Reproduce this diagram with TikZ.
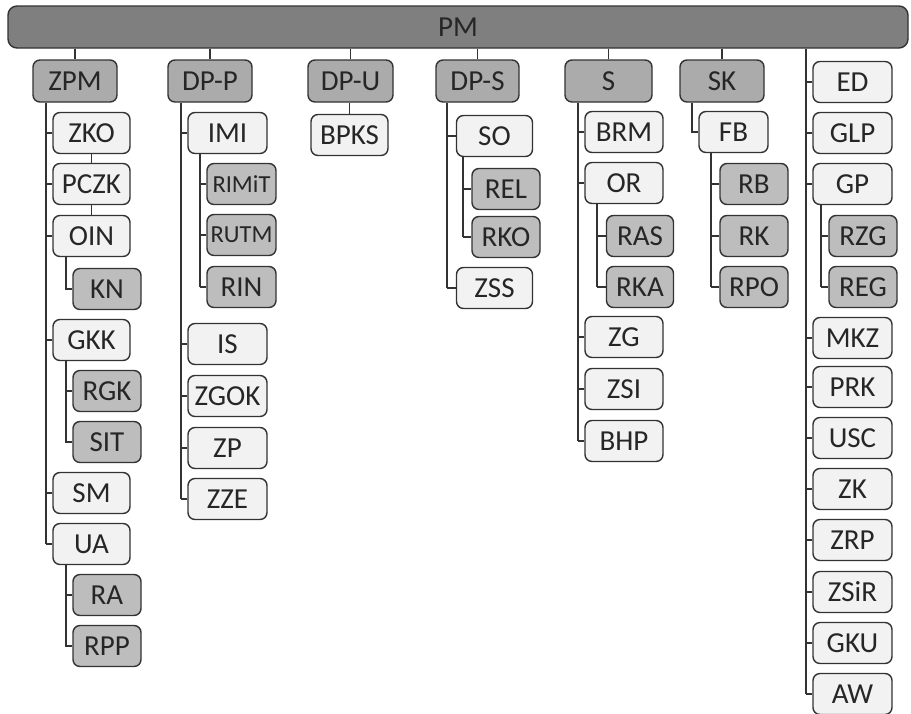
\documentclass[tikz,border=0pt]{standalone}
\usepackage{fontspec}
\setmainfont{Carlito}
\definecolor{barc}{HTML}{7F7F7F}
\definecolor{topc}{HTML}{ABABAB}
\definecolor{midc}{HTML}{BDBDBD}
\definecolor{lightc}{HTML}{F2F2F2}
\definecolor{linec}{HTML}{333333}
\begin{document}
\begin{tikzpicture}[x=1pt,y=-1pt,
  box/.style={draw=linec, line width=1.4pt, rounded corners=7pt, inner sep=0pt,
    minimum height=41pt, font=\fontsize{29}{32}\selectfont, text=black!85},
  topbox/.style={box, fill=topc, minimum height=42pt},
  lvtwo/.style={box, fill=lightc},
  lvthree/.style={box, fill=midc},
  smalltext/.style={font=\fontsize{24.5}{27}\selectfont},
  conn/.style={draw=linec, line width=1.2pt}]
\useasboundingbox (0,0) rectangle (911,713);
\clip (0,0) rectangle (911,713);
\fill[white] (0,0) rectangle (911,713);

% root bar
\node[box, fill=barc, minimum width=900pt, minimum height=42pt, rounded corners=9pt] (PM) at (458,27) {PM};

% top level
\node[topbox, minimum width=84pt] (ZPM) at (75,81) {ZPM};
\node[topbox, minimum width=84pt] (DPP) at (210,81) {DP-P};
\node[topbox, minimum width=85pt] (DPU) at (350.5,81) {DP-U};
\node[topbox, minimum width=83pt] (DPS) at (477.5,81) {DP-S};
\node[topbox, minimum width=87pt] (S) at (608.5,81) {S};
\node[topbox, minimum width=84pt] (SK) at (722,81) {SK};
\foreach \n in {ZPM,DPP,DPU,DPS,S,SK}
  \draw[conn] (PM.south -| \n.north) -- (\n.north);

% ZPM column
\begin{scope}[every node/.append style={minimum width=77pt}]
\node[lvtwo] (ZKO) at (91.5,133) {ZKO};
\node[lvtwo] (PCZK) at (91.5,184) {PCZK};
\node[lvtwo] (OIN) at (91.5,236) {OIN};
\node[lvtwo] (GKK) at (91.5,340) {GKK};
\node[lvtwo] (SM) at (91.5,493) {SM};
\node[lvtwo] (UA) at (91.5,544) {UA};
\end{scope}
\begin{scope}[every node/.append style={minimum width=68pt}]
\node[lvthree] (KN) at (107,289) {KN};
\node[lvthree] (RGK) at (107,391) {RGK};
\node[lvthree] (SIT) at (107,442) {SIT};
\node[lvthree] (RA) at (107,595) {RA};
\node[lvthree] (RPP) at (107,646) {RPP};
\end{scope}
\coordinate (Lzpm) at (46,0);
\coordinate (Mzpm) at (66,0);
\draw[conn] (ZPM.south -| Lzpm) -- (Lzpm |- UA.west);
\foreach \n in {ZKO,PCZK,OIN,GKK,SM,UA}
  \draw[conn] (Lzpm |- \n.west) -- (\n.west);
\draw[conn] (ZKO.south) -- (PCZK.north);
\draw[conn] (PCZK.south) -- (OIN.north);
\draw[conn] (OIN.south -| Mzpm) |- (KN.west);
\draw[conn] (GKK.south -| Mzpm) |- (SIT.west);
\draw[conn] (Mzpm |- RGK.west) -- (RGK.west);
\draw[conn] (UA.south -| Mzpm) |- (RPP.west);
\draw[conn] (Mzpm |- RA.west) -- (RA.west);

% DP-P column
\begin{scope}[every node/.append style={minimum width=79pt}]
\node[lvtwo] (IMI) at (227.5,133) {IMI};
\node[lvtwo] (IS) at (227.5,344) {IS};
\node[lvtwo] (ZGOK) at (227.5,396) {ZGOK};
\node[lvtwo] (ZP) at (227.5,448) {ZP};
\node[lvtwo] (ZZE) at (227.5,499) {ZZE};
\end{scope}
\begin{scope}[every node/.append style={minimum width=69pt}]
\node[lvthree, smalltext] (RIMiT) at (241.5,184) {RIMiT};
\node[lvthree, smalltext] (RUTM) at (241.5,235) {RUTM};
\node[lvthree] (RIN) at (241.5,287) {RIN};
\end{scope}
\coordinate (Ldpp) at (181,0);
\coordinate (Mdpp) at (200,0);
\draw[conn] (DPP.south -| Ldpp) -- (Ldpp |- ZZE.west);
\foreach \n in {IMI,IS,ZGOK,ZP,ZZE}
  \draw[conn] (Ldpp |- \n.west) -- (\n.west);
\draw[conn] (IMI.south -| Mdpp) -- (Mdpp |- RIN.west);
\foreach \n in {RIMiT,RUTM,RIN}
  \draw[conn] (Mdpp |- \n.west) -- (\n.west);

% DP-U column
\node[lvtwo, minimum width=77pt] (BPKS) at (349.5,135) {BPKS};
\draw[conn] (DPU.south -| BPKS.north) -- (BPKS.north);

% DP-S column
\begin{scope}[every node/.append style={minimum width=76pt}]
\node[lvtwo] (SO) at (494.5,136) {SO};
\node[lvtwo] (ZSS) at (494.5,288) {ZSS};
\end{scope}
\begin{scope}[every node/.append style={minimum width=68pt}]
\node[lvthree] (REL) at (506,189) {REL};
\node[lvthree] (RKO) at (506,237) {RKO};
\end{scope}
\coordinate (Ldps) at (447,0);
\coordinate (Mdps) at (463,0);
\draw[conn] (DPS.south -| Ldps) -- (Ldps |- ZSS.west);
\foreach \n in {SO,ZSS}
  \draw[conn] (Ldps |- \n.west) -- (\n.west);
\draw[conn] (SO.south -| Mdps) -- (Mdps |- RKO.west);
\foreach \n in {REL,RKO}
  \draw[conn] (Mdps |- \n.west) -- (\n.west);

% S column
\begin{scope}[every node/.append style={minimum width=78pt}]
\node[lvtwo] (BRM) at (624,132) {BRM};
\node[lvtwo] (OR) at (624,183) {OR};
\node[lvtwo] (ZG) at (624,337) {ZG};
\node[lvtwo] (ZSI) at (624,389) {ZSI};
\node[lvtwo] (BHP) at (624,441) {BHP};
\end{scope}
\begin{scope}[every node/.append style={minimum width=67pt}]
\node[lvthree] (RAS) at (640,236) {RAS};
\node[lvthree] (RKA) at (640,287) {RKA};
\end{scope}
\coordinate (Ls) at (578,0);
\coordinate (Ms) at (597,0);
\draw[conn] (S.south -| Ls) -- (Ls |- BHP.west);
\foreach \n in {BRM,OR,ZG,ZSI,BHP}
  \draw[conn] (Ls |- \n.west) -- (\n.west);
\draw[conn] (OR.south -| Ms) -- (Ms |- RKA.west);
\foreach \n in {RAS,RKA}
  \draw[conn] (Ms |- \n.west) -- (\n.west);

% SK column
\node[lvtwo, minimum width=69pt] (FB) at (733.5,132) {FB};
\begin{scope}[every node/.append style={minimum width=68pt}]
\node[lvthree] (RB) at (754,184) {RB};
\node[lvthree] (RK) at (754,236) {RK};
\node[lvthree] (RPO) at (754,287) {RPO};
\end{scope}
\coordinate (Lsk) at (692,0);
\coordinate (Msk) at (711,0);
\draw[conn] (SK.south -| Lsk) |- (FB.west);
\draw[conn] (FB.south -| Msk) -- (Msk |- RPO.west);
\foreach \n in {RB,RK,RPO}
  \draw[conn] (Msk |- \n.west) -- (\n.west);

% right column
\begin{scope}[every node/.append style={minimum width=79pt}]
\node[lvtwo] (ED) at (852.5,82) {ED};
\node[lvtwo] (GLP) at (852.5,133) {GLP};
\node[lvtwo] (GP) at (852.5,184) {GP};
\node[lvtwo] (MKZ) at (852.5,338) {MKZ};
\node[lvtwo] (PRK) at (852.5,387) {PRK};
\node[lvtwo] (USC) at (852.5,438) {USC};
\node[lvtwo] (ZK) at (852.5,489) {ZK};
\node[lvtwo] (ZRP) at (852.5,540) {ZRP};
\node[lvtwo] (ZSiR) at (852.5,592) {ZSiR};
\node[lvtwo] (GKU) at (852.5,643) {GKU};
\node[lvtwo] (AW) at (852.5,694) {AW};
\end{scope}
\begin{scope}[every node/.append style={minimum width=68pt}]
\node[lvthree] (RZG) at (863,236) {RZG};
\node[lvthree] (REG) at (863,287) {REG};
\end{scope}
\coordinate (Lr) at (806,0);
\coordinate (Mr) at (821,0);
\draw[conn] (PM.south -| Lr) -- (Lr |- AW.west);
\foreach \n in {ED,GLP,GP,MKZ,PRK,USC,ZK,ZRP,ZSiR,GKU,AW}
  \draw[conn] (Lr |- \n.west) -- (\n.west);
\draw[conn] (GP.south -| Mr) -- (Mr |- REG.west);
\foreach \n in {RZG,REG}
  \draw[conn] (Mr |- \n.west) -- (\n.west);
\end{tikzpicture}
\end{document}
